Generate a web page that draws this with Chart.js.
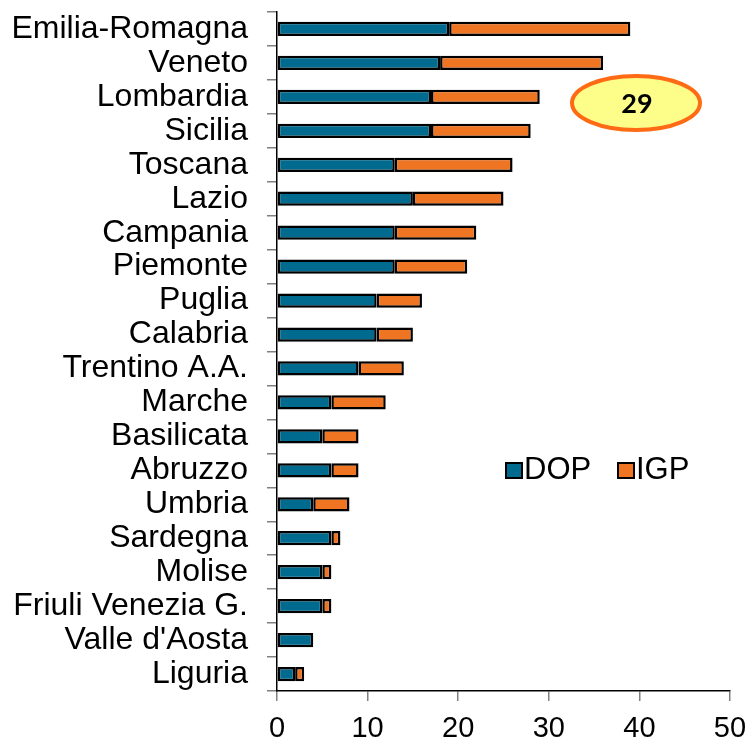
<!DOCTYPE html>
<html>
<head>
<meta charset="utf-8">
<script src="https://cdn.jsdelivr.net/npm/chart.js@4.4.0/dist/chart.umd.min.js"></script>
<style>
  html, body { margin: 0; padding: 0; background: #fff; }
  #wrap { width: 749px; height: 743px; position: relative; }
</style>
</head>
<body>
<div id="wrap"><canvas id="chart"></canvas></div>
<script>
const regions = [
  'Emilia-Romagna', 'Veneto', 'Lombardia', 'Sicilia', 'Toscana', 'Lazio',
  'Campania', 'Piemonte', 'Puglia', 'Calabria', 'Trentino A.A.', 'Marche',
  'Basilicata', 'Abruzzo', 'Umbria', 'Sardegna', 'Molise', 'Friuli Venezia G.',
  "Valle d'Aosta", 'Liguria'
]
const dop = [19, 18, 17, 17, 13, 15, 13, 13, 11, 11, 9, 6, 5, 6, 4, 6, 5, 5, 4, 2]
const igp = [20, 18, 12, 11, 13, 10, 9, 8, 5, 4, 5, 6, 4, 3, 4, 1, 1, 1, 0, 1]
const xTicks = [0, 10, 20, 30, 40, 50]
const calloutText = '29'

const DOP_COLOR = '#006a8f'
const IGP_COLOR = '#f07523'
const FONT = '"Liberation Sans", Arial, sans-serif'

// legend inside the plot + the yellow callout
const overlay = {
  id: 'overlay',
  afterDraw(chart) {
    const ctx = chart.ctx
    const area = chart.chartArea
    ctx.save()

    // legend
    const items = [
      { label: 'DOP', color: DOP_COLOR, x: area.left + 229 },
      { label: 'IGP', color: IGP_COLOR, x: area.left + 341 }
    ]
    const baseY = 479
    ctx.font = '31px ' + FONT
    ctx.textBaseline = 'alphabetic'
    items.forEach(it => {
      ctx.fillStyle = it.color
      ctx.strokeStyle = '#000'
      ctx.lineWidth = 2
      ctx.fillRect(it.x, baseY - 16, 16, 15)
      ctx.strokeRect(it.x, baseY - 16, 16, 15)
      ctx.fillStyle = '#000'
      ctx.fillText(it.label, it.x + 18, baseY)
    })

    // callout
    const cx = 636, cy = 103
    ctx.beginPath()
    ctx.ellipse(cx, cy, 64, 27, 0, 0, Math.PI * 2)
    ctx.fillStyle = '#fdfd8a'
    ctx.fill()
    ctx.lineWidth = 4
    ctx.strokeStyle = '#ff6a14'
    ctx.stroke()
    ctx.fillStyle = '#000'
    ctx.font = 'bold 27px Lato, "Open Sans", sans-serif'
    ctx.textAlign = 'center'
    ctx.textBaseline = 'middle'
    ctx.fillText(calloutText, cx + 1, cy + 1)

    ctx.restore()
  }
}

new Chart(document.getElementById('chart'), {
  type: 'bar',
  data: {
    labels: regions,
    datasets: [
      {
        label: 'DOP',
        data: dop,
        backgroundColor: DOP_COLOR,
        borderColor: '#000',
        borderWidth: 2.5,
        borderSkipped: false,
        barPercentage: 0.42,
        categoryPercentage: 1
      },
      {
        label: 'IGP',
        data: igp,
        backgroundColor: IGP_COLOR,
        borderColor: '#000',
        borderWidth: 2.5,
        borderSkipped: false,
        barPercentage: 0.42,
        categoryPercentage: 1
      }
    ]
  },
  options: {
    indexAxis: 'y',
    responsive: true,
    maintainAspectRatio: false,
    animation: false,
    layout: { padding: 0 },
    plugins: {
      legend: { display: false },
      tooltip: { enabled: false }
    },
    scales: {
      x: {
        stacked: true,
        min: 0,
        max: 50,
        afterBuildTicks: scale => { scale.ticks = xTicks.map(v => ({ value: v })) },
        afterFit: scale => {
          scale.height = 52
          scale.paddingLeft = 0
          scale.paddingRight = 19
        },
        ticks: {
          color: '#000',
          font: { family: FONT, size: 29 },
          padding: 11
        },
        grid: {
          drawOnChartArea: false,
          tickLength: 10,
          color: '#808080',
          lineWidth: 1.5
        },
        border: { color: '#000', width: 1.5 }
      },
      y: {
        stacked: true,
        afterFit: scale => {
          scale.width = 277
          scale.paddingTop = 12
          scale.paddingBottom = 0
        },
        ticks: {
          color: '#000',
          autoSkip: false,
          font: { family: FONT, size: 32 },
          padding: 19
        },
        grid: {
          drawOnChartArea: false,
          offset: true,
          tickLength: 10,
          color: '#808080',
          lineWidth: 1.5
        },
        border: { color: '#000', width: 1.5 }
      }
    }
  },
  plugins: [overlay]
})
</script>
</body>
</html>
